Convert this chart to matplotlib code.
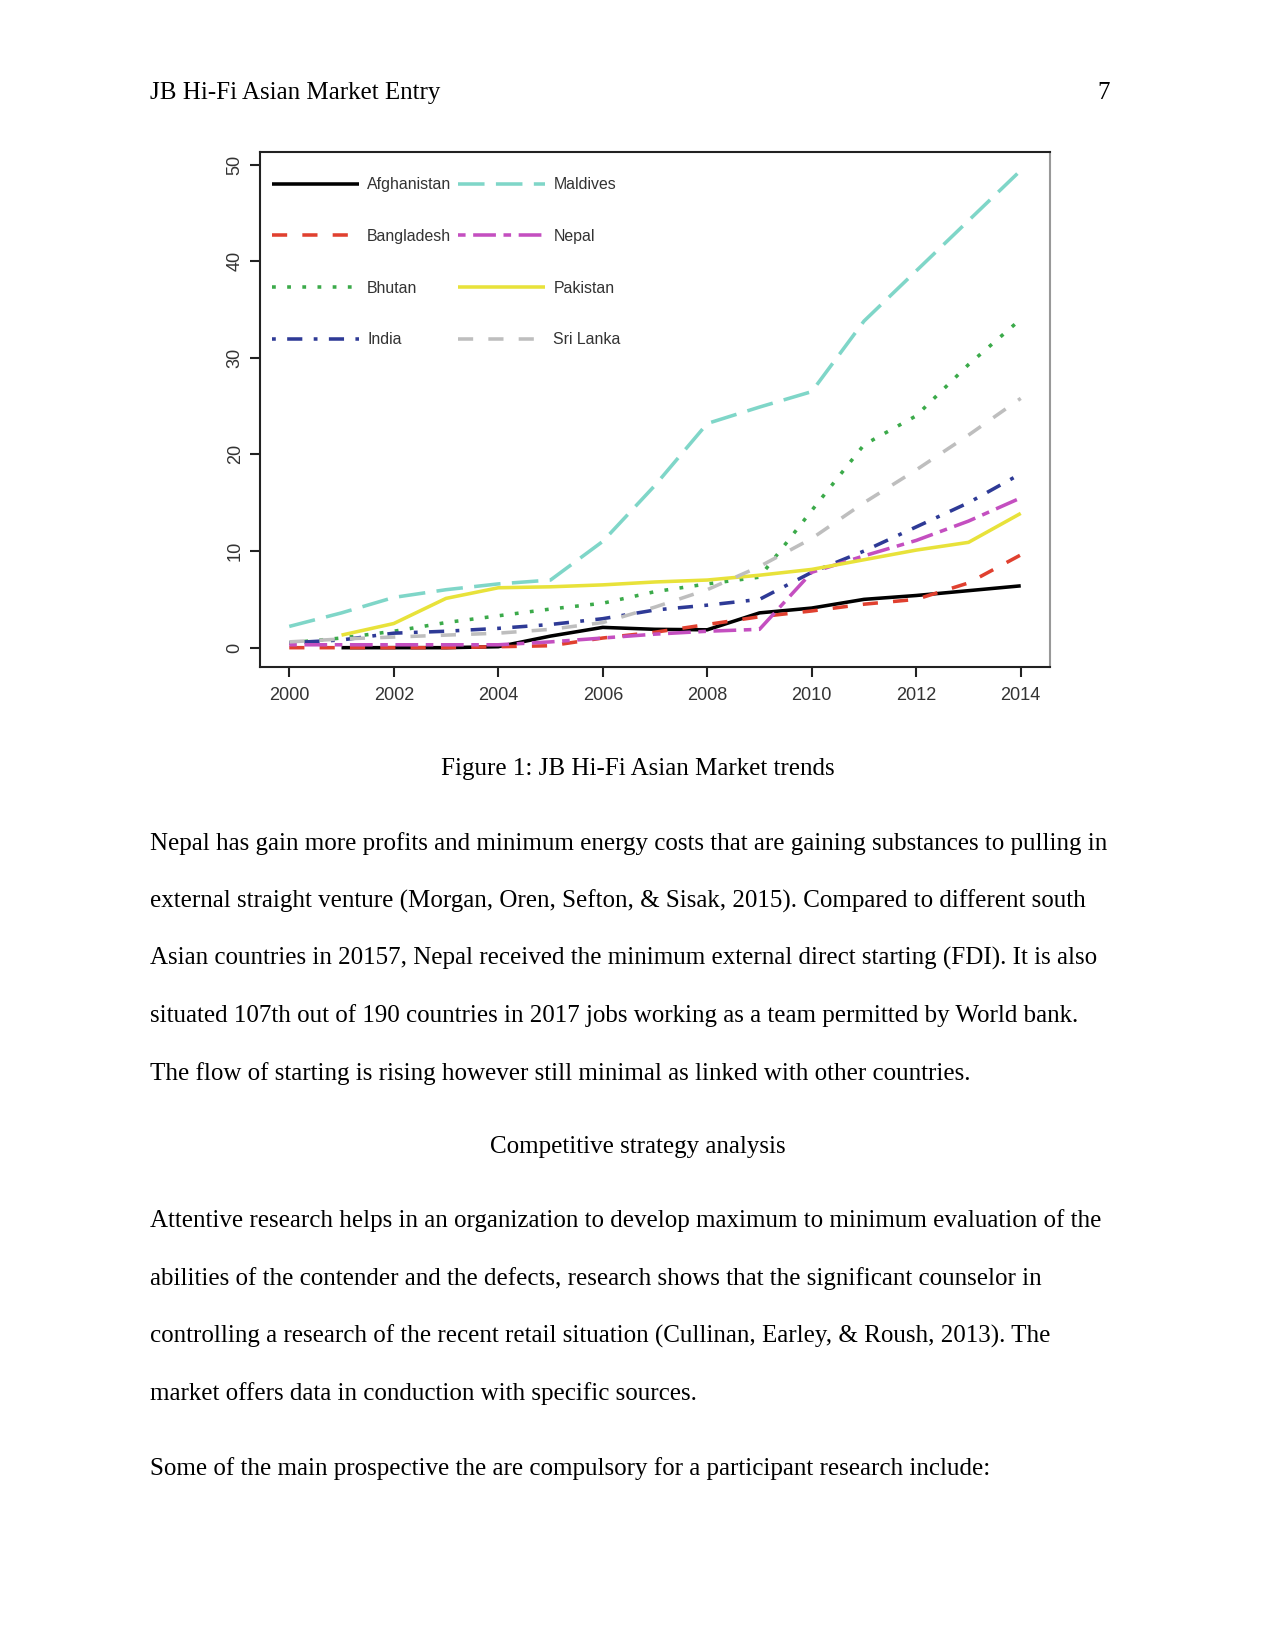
import numpy as np
import matplotlib
matplotlib.use("Agg")
import matplotlib.pyplot as plt

# page text
header = "JB Hi-Fi Asian Market Entry"
page_no = "7"
caption = "Figure 1: JB Hi-Fi Asian Market trends"
para1 = [
    "Nepal has gain more profits and minimum energy costs that are gaining substances to pulling in",
    "external straight venture (Morgan, Oren, Sefton, & Sisak, 2015). Compared to different south",
    "Asian countries in 20157, Nepal received the minimum external direct starting (FDI). It is also",
    "situated 107th out of 190 countries in 2017 jobs working as a team permitted by World bank.",
    "The flow of starting is rising however still minimal as linked with other countries.",
]
heading = "Competitive strategy analysis"
para2 = [
    "Attentive research helps in an organization to develop maximum to minimum evaluation of the",
    "abilities of the contender and the defects, research shows that the significant counselor in",
    "controlling a research of the recent retail situation (Cullinan, Earley, & Roush, 2013). The",
    "market offers data in conduction with specific sources.",
]
last_line = "Some of the main prospective the are compulsory for a participant research include:"

# chart data
years = np.arange(2000, 2015)
nan = np.nan
afghanistan = [nan, 0.0, 0.0, 0.0, 0.1, 1.2, 2.1, 1.9, 1.85, 3.6, 4.1, 5.0, 5.4, 5.9, 6.4]
bangladesh = [0.0, 0.0, 0.0, 0.0, 0.1, 0.2, 1.0, 1.6, 2.4, 3.2, 3.8, 4.5, 5.0, 6.7, 9.6]
bhutan = [0.5, 1.0, 1.7, 2.6, 3.3, 4.0, 4.6, 5.8, 6.6, 7.3, 14.2, 21.0, 24.0, 29.3, 34.0]
india = [0.5, 0.8, 1.5, 1.7, 2.0, 2.4, 3.0, 3.9, 4.4, 5.0, 7.8, 10.0, 12.5, 15.0, 18.0]
maldives = [2.2, 3.6, 5.2, 6.0, 6.6, 7.0, 11.0, 16.8, 23.2, 24.9, 26.5, 33.8, 39.0, 44.2, 49.4]
nepal = [0.3, 0.3, 0.3, 0.3, 0.3, 0.6, 1.0, 1.4, 1.7, 1.9, 7.8, 9.5, 11.1, 13.1, 15.5]
pakistan = [nan, 1.3, 2.5, 5.1, 6.2, 6.3, 6.5, 6.8, 7.0, 7.5, 8.1, 9.1, 10.1, 10.9, 13.9]
sri_lanka = [0.6, 0.9, 1.1, 1.3, 1.5, 1.9, 2.6, 4.2, 6.0, 8.4, 11.3, 15.0, 18.4, 22.0, 25.8]

countries = ["Afghanistan", "Bangladesh", "Bhutan", "India",
             "Maldives", "Nepal", "Pakistan", "Sri Lanka"]
series = [afghanistan, bangladesh, bhutan, india, maldives, nepal, pakistan, sri_lanka]
colors = ["#000000", "#E0402F", "#3BAA4A", "#2E3A96",
          "#7FD6C8", "#C44FC0", "#E8E23A", "#BEBEBE"]
u = 1.82  # dash unit in points
styles = [None, (4*u, 4*u), (1*u, 3*u), (1*u, 3*u, 4*u, 3*u),
          (7*u, 3*u), (2*u, 2*u, 6*u, 2*u), None, (4*u, 4*u)]

plt.rcParams['lines.scale_dashes'] = False

W, H = 1275, 1650
fig = plt.figure(figsize=(8.5, 11), dpi=150)

def put(x, y, s, **kw):
    fig.text(x / W, 1 - y / H, s, family="Liberation Serif", fontsize=12,
             va="baseline", **kw)

put(150, 99, header)
put(1110, 99, page_no, ha="right")
put(637.5, 775.5, caption, ha="center")
for i, s in enumerate(para1):
    put(150, 849.5 + i * 57.6, s)
put(637.5, 1153.5, heading, ha="center")
for i, s in enumerate(para2):
    put(150, 1227 + i * 57.6, s)
put(150, 1474.5, last_line)

# chart
ax = fig.add_axes([260 / W, 1 - 667 / H, 790 / W, 515 / H])
for name, vals, c, d in zip(countries, series, colors, styles):
    line, = ax.plot(years, vals, color=c, lw=1.7, label=name,
                    solid_capstyle="butt", dash_capstyle="butt")
    if d is not None:
        line.set_dashes(d)

ax.set_xlim(1999.44, 2014.56)
ax.set_ylim(-2.0, 51.3)
ax.set_xticks(np.arange(2000, 2015, 2))
ax.set_yticks(np.arange(0, 51, 10))
for sp in ax.spines.values():
    sp.set_linewidth(1.0)
    sp.set_color("#222222")
ax.spines["right"].set_color("#999999")
ax.tick_params(direction="out", length=4.8, width=1.0, color="#222222",
               labelsize=8.7, labelcolor="#333333")
ax.tick_params(axis="x", pad=5)
ax.tick_params(axis="y", pad=3, labelrotation=90)
for lab in ax.get_xticklabels() + ax.get_yticklabels():
    lab.set_family("Liberation Sans")
for lab in ax.get_yticklabels():
    lab.set_va("center")

leg = ax.legend(ncol=2, loc="upper left", bbox_to_anchor=(0.0152, 0.951),
                frameon=False, borderpad=0, borderaxespad=0,
                handlelength=5.5, handletextpad=0.5, columnspacing=0.45,
                labelspacing=2.32, prop={"family": "Liberation Sans", "size": 7.6})
for t in leg.get_texts():
    t.set_color("#333333")

fig.savefig("out.png", dpi=150)
